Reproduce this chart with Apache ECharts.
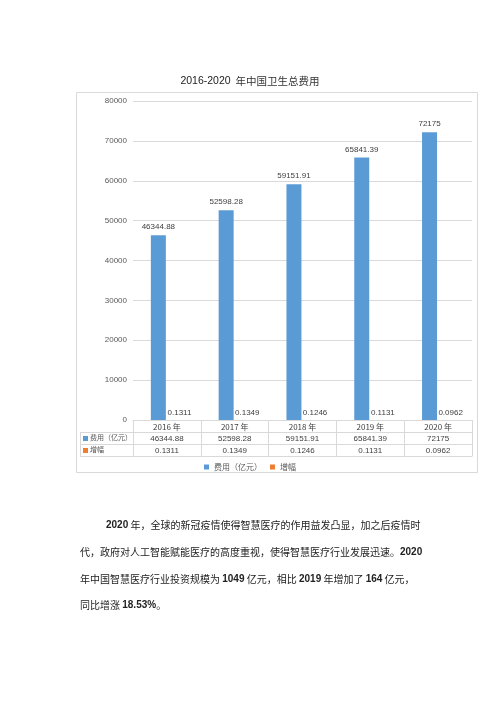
<!DOCTYPE html>
<html>
<head>
<meta charset="utf-8">
<script src="https://cdn.jsdelivr.net/npm/echarts@6/dist/echarts.min.js"></script>
<style>
html,body{margin:0;padding:0;background:#fff;}
#c{width:500px;height:707px;}
</style>
</head>
<body>
<div id="c"></div>
<script>
var categories = ['2016 年', '2017 年', '2018 年', '2019 年', '2020 年'];
var costValues = [46344.88, 52598.28, 59151.91, 65841.39, 72175];
var costLabels = ['46344.88', '52598.28', '59151.91', '65841.39', '72175'];
var growthValues = [0.1311, 0.1349, 0.1246, 0.1131, 0.0962];
var growthLabels = ['0.1311', '0.1349', '0.1246', '0.1131', '0.0962'];
var seriesNames = ['费用（亿元）', '增幅'];
var yTicks = {min: 0, max: 80000, interval: 10000};

var BLUE = '#5B9BD5', ORANGE = '#ED7D31', GRID = '#d9d9d9', TXT = '#595959';
var FONT = "'Liberation Sans','Noto Sans CJK SC',sans-serif";
var CJK = "'Noto Sans CJK SC',sans-serif";

var chart = echarts.init(document.getElementById('c'), null, {renderer: 'canvas'});

function tableAxis(offset, labels, showLabel) {
  return {
    type: 'category', data: categories, position: 'bottom', offset: offset,
    axisLine: {show: true, lineStyle: {color: GRID, width: 1}},
    axisTick: {show: false},
    splitLine: {show: false},
    axisLabel: {show: showLabel, interval: 0, margin: 3, fontSize: 8, color: '#404040', fontFamily: FONT,
      formatter: function (v, i) { return labels ? labels[i] : v; }}
  };
}

var bodyLines = [
  {y: 527, x: 106, parts: [['b', '2020'], ['n', ' 年，全球的新冠疫情使得智慧医疗的作用益发凸显，加之后疫情时']]},
  {y: 554, x: 80, parts: [['n', '代，政府对人工智能赋能医疗的高度重视，使得智慧医疗行业发展迅速。'], ['b', '2020']]},
  {y: 581, x: 80, parts: [['n', '年中国智慧医疗行业投资规模为 '], ['b', '1049'], ['n', ' 亿元，相比 '], ['b', '2019'], ['n', ' 年增加了 '], ['b', '164'], ['n', ' 亿元，']]},
  {y: 607, x: 80, parts: [['n', '同比增涨 '], ['b', '18.53%'], ['n', '。']]}
];

function richLine(l) {
  return {
    type: 'text', left: l.x, top: l.y - 7, silent: true,
    style: {
      text: l.parts.map(function (p) { return '{' + p[0] + '|' + p[1].replace(/[{}|]/g, '') + '}'; }).join(''),
      rich: {
        n: {fontSize: 10, fontFamily: CJK, fill: '#222'},
        b: {fontSize: 10, fontFamily: "'Liberation Sans',sans-serif", fontWeight: 'bold', fill: '#222'}
      }
    }
  };
}

var graphics = [
  {type: 'rect', shape: {x: 76.5, y: 92.5, width: 401, height: 380}, style: {fill: 'none', stroke: GRID, lineWidth: 1}, silent: true},
  {type: 'line', shape: {x1: 80, y1: 432.5, x2: 133, y2: 432.5}, style: {stroke: GRID, lineWidth: 1}},
  {type: 'line', shape: {x1: 80, y1: 444.5, x2: 133, y2: 444.5}, style: {stroke: GRID, lineWidth: 1}},
  {type: 'line', shape: {x1: 80, y1: 456.5, x2: 133, y2: 456.5}, style: {stroke: GRID, lineWidth: 1}},
  {type: 'line', shape: {x1: 80.5, y1: 432, x2: 80.5, y2: 457}, style: {stroke: GRID, lineWidth: 1}},
  {type: 'rect', shape: {x: 83, y: 436, width: 5, height: 5}, style: {fill: BLUE}},
  {type: 'text', left: 90, top: 434, style: {text: seriesNames[0], fontSize: 7, fontFamily: CJK, fill: TXT}},
  {type: 'rect', shape: {x: 83, y: 448, width: 5, height: 5}, style: {fill: ORANGE}},
  {type: 'text', left: 90, top: 446, style: {text: seriesNames[1], fontSize: 7, fontFamily: CJK, fill: TXT}}
].concat(bodyLines.map(richLine));

var option = {
  animation: false,
  backgroundColor: '#fff',
  title: {
    text: '{b|2016-2020} {n|年中国卫生总费用}',
    left: 'center', top: 67,
    textStyle: {
      fontWeight: 'normal',
      rich: {
        b: {fontSize: 10.5, fontFamily: "'Liberation Sans',sans-serif", color: '#222', fontWeight: 'normal'},
        n: {fontSize: 10.5, fontFamily: CJK, color: '#333', fontWeight: 'normal'}
      }
    }
  },
  legend: {
    data: seriesNames, top: 458, left: 'center', itemWidth: 5, itemHeight: 5, itemGap: 8,
    icon: 'rect',
    textStyle: {fontSize: 8, color: TXT, fontFamily: CJK}
  },
  grid: {left: 133, right: 28, top: 101, bottom: 287, containLabel: false},
  xAxis: [
    {
      type: 'category', data: categories, position: 'bottom',
      axisLine: {show: true, lineStyle: {color: GRID}},
      axisTick: {show: true, interval: 0, length: 36, lineStyle: {color: GRID}},
      axisLabel: {interval: 0, margin: 3, fontSize: 8, color: '#404040', fontFamily: CJK},
      splitLine: {show: false}
    },
    tableAxis(12, costLabels, true),
    tableAxis(24, growthLabels, true),
    tableAxis(36, null, false)
  ],
  yAxis: {
    type: 'value', min: yTicks.min, max: yTicks.max, interval: yTicks.interval,
    axisLine: {show: false}, axisTick: {show: false},
    axisLabel: {fontSize: 8, color: TXT, margin: 6, fontFamily: FONT,
      formatter: function (v) { return String(v); }},
    splitLine: {lineStyle: {color: GRID}}
  },
  series: [
    {
      name: seriesNames[0], type: 'bar', data: costValues, barWidth: 15, barGap: '14%',
      itemStyle: {color: BLUE},
      label: {show: true, position: 'top', distance: 4, fontSize: 8, color: '#404040', fontFamily: FONT,
        formatter: function (p) { return costLabels[p.dataIndex]; }}
    },
    {
      name: seriesNames[1], type: 'bar', data: growthValues, barWidth: 15,
      itemStyle: {color: ORANGE},
      label: {show: true, position: 'top', distance: 3, offset: [4, 0], fontSize: 8, color: '#404040', fontFamily: FONT,
        formatter: function (p) { return growthLabels[p.dataIndex]; }}
    }
  ],
  graphic: graphics
};
chart.setOption(option);
</script>
</body>
</html>
